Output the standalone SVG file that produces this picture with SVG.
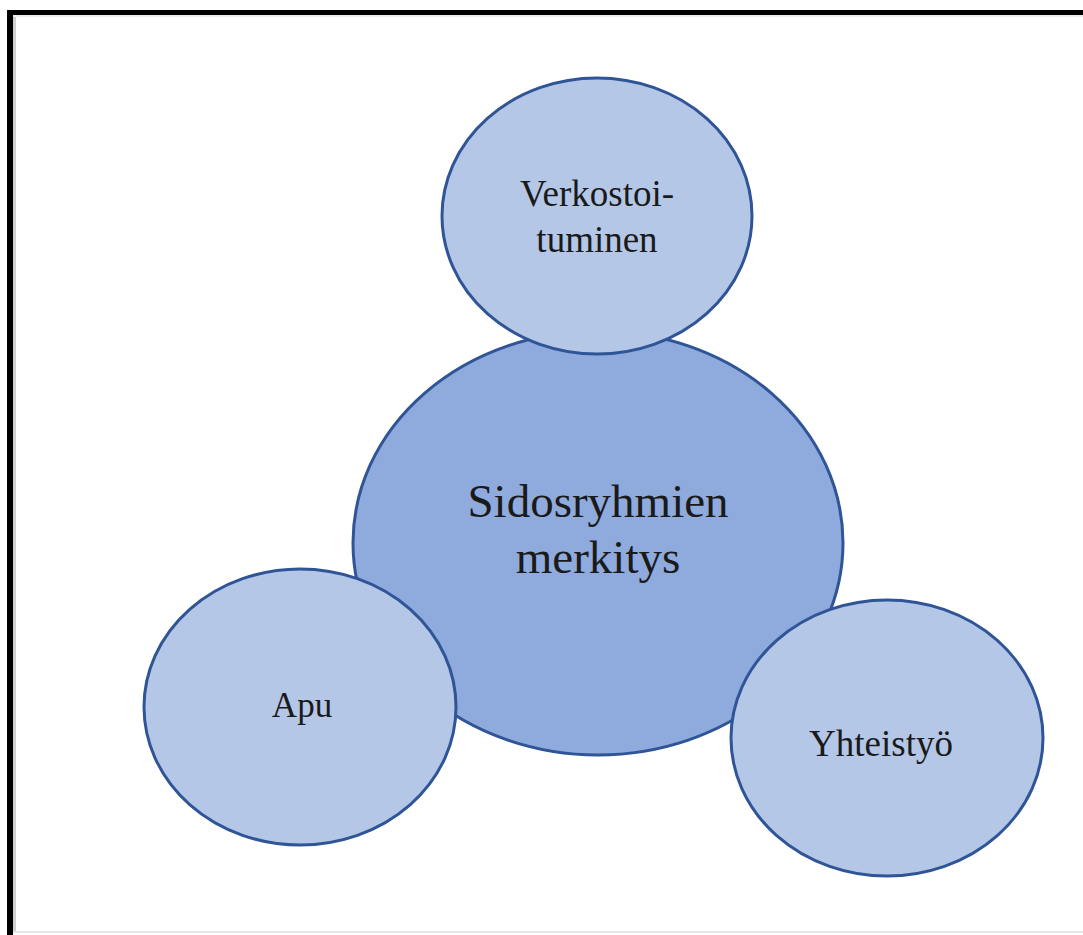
<svg xmlns="http://www.w3.org/2000/svg" width="1083" height="935" viewBox="0 0 1083 935">
  <style>
    .node-main { fill: #8FAADC; stroke: #2F5597; stroke-width: 3; }
    .node-sub { fill: #B4C7E7; stroke: #2F5597; stroke-width: 3; }
    .label { font-family: "Liberation Serif", "Times New Roman", serif; fill: #1a1a1a; text-anchor: middle; }
  </style>
  <rect x="0" y="0" width="1083" height="935" fill="#ffffff"/>
  <!-- frame -->
  <g id="frame">
    <rect x="13" y="15" width="3" height="917" fill="#cfcfcf"/>
    <rect x="13" y="15" width="1070" height="2" fill="#eeeeee"/>
    <rect x="13" y="931" width="1070" height="2" fill="#e6e6e6"/>
    <rect x="7" y="10" width="1076" height="5" fill="#000000"/>
    <rect x="7" y="10" width="6" height="925" fill="#000000"/>
  </g>
  <g id="connectors"></g>
  <g id="node-center">
    <ellipse class="node-main" cx="598" cy="543" rx="245" ry="212"/>
    <text class="label" x="598" y="517" font-size="47">Sidosryhmien</text>
    <text class="label" x="598" y="573" font-size="47">merkitys</text>
  </g>
  <g id="node-verkostoituminen">
    <ellipse class="node-sub" cx="597" cy="216" rx="155" ry="138"/>
    <text class="label" x="597" y="206" font-size="37">Verkostoi-</text>
    <text class="label" x="597" y="252" font-size="37">tuminen</text>
  </g>
  <g id="node-apu">
    <ellipse class="node-sub" cx="300" cy="707" rx="156" ry="138"/>
    <text class="label" x="302" y="717" font-size="35">Apu</text>
  </g>
  <g id="node-yhteistyo">
    <ellipse class="node-sub" cx="887" cy="738" rx="156" ry="138"/>
    <text class="label" x="881" y="756" font-size="37">Yhteistyö</text>
  </g>
</svg>
